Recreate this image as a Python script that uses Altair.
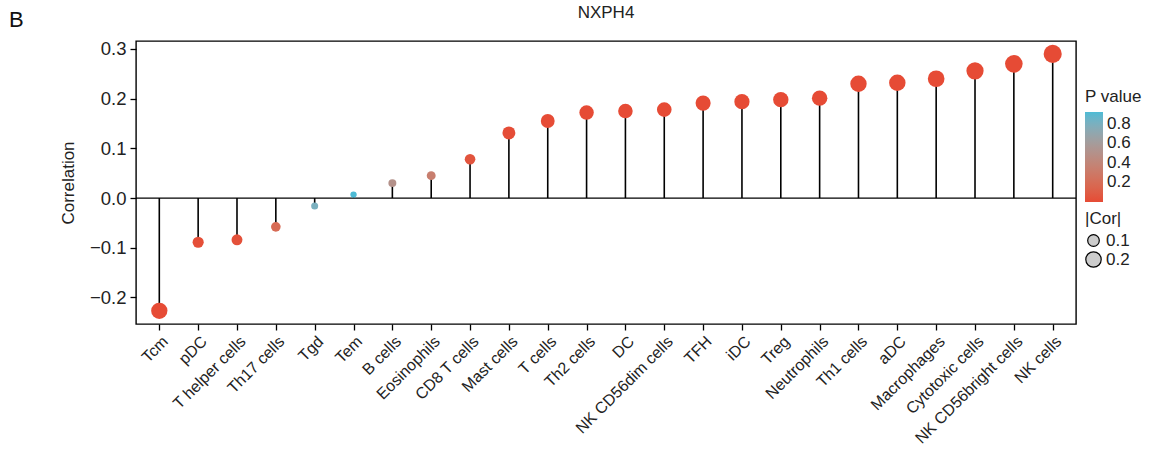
import altair as alt
import pandas as pd

cells = ["Tcm", "pDC", "T helper cells", "Th17 cells", "Tgd", "Tem", "B cells",
         "Eosinophils", "CD8 T cells", "Mast cells", "T cells", "Th2 cells", "DC",
         "NK CD56dim cells", "TFH", "iDC", "Treg", "Neutrophils", "Th1 cells", "aDC",
         "Macrophages", "Cytotoxic cells", "NK CD56bright cells", "NK cells"]
correlation = [-0.227, -0.089, -0.084, -0.058, -0.016, 0.007, 0.030, 0.045, 0.078,
               0.131, 0.155, 0.172, 0.175, 0.178, 0.191, 0.194, 0.198, 0.201, 0.230,
               0.232, 0.240, 0.256, 0.270, 0.290]
pvalue = [0.0005, 0.02, 0.03, 0.19, 0.80, 0.92, 0.50, 0.34, 0.05, 0.01, 0.005,
          0.002, 0.002, 0.002, 0.001, 0.001, 0.001, 0.001, 0.0005, 0.0005, 0.0005,
          0.0003, 0.0002, 0.0001]
abs_cor = [abs(c) for c in correlation]

df = pd.DataFrame({"cell": cells, "cor": correlation, "p": pvalue, "abscor": abs_cor})
zero_df = pd.DataFrame({"zero": [0.0]})
panel_df = pd.DataFrame({"label": ["B"]})
title_df = pd.DataFrame({"label": ["NXPH4"]})

FONT = "Liberation Sans"
TXT = "#222222"

x_enc = alt.X("cell:N", sort=cells, title=None,
              scale=alt.Scale(type="point", padding=0.6),
              axis=alt.Axis(labelAngle=-45, labelAlign="right", labelBaseline="top",
                            labelFontSize=16, labelColor=TXT, ticks=True,
                            tickSize=6, tickColor="black", tickWidth=1.3,
                            labelPadding=3, domain=False, grid=False))
y_scale = alt.Scale(domain=[-0.2535, 0.316], nice=False, zero=False)
y_enc = alt.Y("cor:Q", title="Correlation", scale=y_scale,
              axis=alt.Axis(values=[-0.2, -0.1, 0.0, 0.1, 0.2, 0.3], format=".1f",
                            labelFontSize=18.5, labelColor=TXT, titleFontSize=17,
                            titleFontWeight="normal", titleColor=TXT,
                            titlePadding=12, tickSize=6, tickColor="black",
                            tickWidth=1.3, labelPadding=4, domain=False, grid=False))

base = alt.Chart(df)

zero_line = alt.Chart(zero_df).mark_rule(color="black", strokeWidth=1.3).encode(
    y=alt.Y("zero:Q", scale=y_scale))

stems = base.mark_rule(color="black", strokeWidth=1.6).encode(
    x=x_enc, y=y_enc, y2=alt.datum(0))

points = base.mark_circle(opacity=1).encode(
    x=x_enc, y=y_enc,
    color=alt.Color("p:Q", title="P value",
                    scale=alt.Scale(domain=[0, 0.92], range=["#E64B35", "#4DBBD5"],
                                    interpolate="lab"),
                    legend=alt.Legend(orient="none", legendX=949, legendY=48,
                                      values=[0.2, 0.4, 0.6, 0.8], format=".1f",
                                      gradientLength=90, gradientThickness=18,
                                      titleFontSize=17, titleFontWeight="normal",
                                      labelFontSize=17, titleColor=TXT,
                                      labelColor=TXT, titlePadding=6, padding=0,
                                      labelOffset=4, gradientStrokeWidth=0)),
    size=alt.Size("abscor:Q", title="|Cor|",
                  scale=alt.Scale(zero=False, range=[40, 330]),
                  legend=alt.Legend(orient="none", legendX=949, legendY=170,
                                    values=[0.1, 0.2], format=".1f",
                                    symbolFillColor="#cccccc",
                                    symbolStrokeColor="black", symbolStrokeWidth=1.2,
                                    titleFontSize=17, titleFontWeight="normal",
                                    labelFontSize=17, titleColor=TXT,
                                    labelColor=TXT, symbolType="circle", padding=0,
                                    rowPadding=0, titlePadding=4, labelOffset=4)),
)

panel = alt.Chart(panel_df).mark_text(fontSize=22, font=FONT, color="#111111",
                                      align="left", baseline="middle").encode(
    text="label:N", x=alt.value(-127), y=alt.value(-21))

title_mark = alt.Chart(title_df).mark_text(fontSize=17, font=FONT, color=TXT,
                                           align="center", baseline="middle").encode(
    text="label:N", x=alt.value(470), y=alt.value(-28))

chart = alt.layer(zero_line, stems, points, panel, title_mark).properties(
    width=940, height=283,
    autosize=alt.AutoSizeParams(type="none"),
    padding={"left": 136, "top": 41, "right": 73, "bottom": 130},
).configure(
    font=FONT,
    view=alt.ViewConfig(stroke="black", strokeWidth=1.4),
)

chart.save("out.html", embed_options={"renderer": "svg", "actions": False})
